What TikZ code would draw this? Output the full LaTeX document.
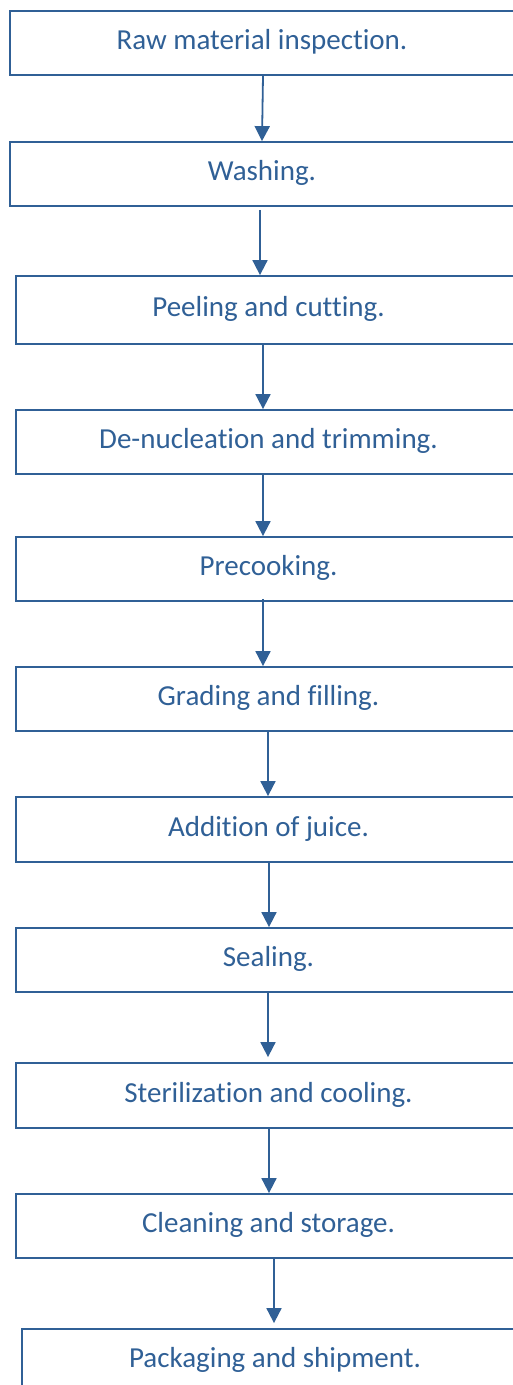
\documentclass[tikz,border=0pt]{standalone}
\usepackage{fontspec}
\setmainfont{Carlito}[Ligatures=NoCommon]
\usetikzlibrary{arrows.meta}
\definecolor{flowblue}{RGB}{48,96,150}
\tikzset{
  stepbox/.style={draw=flowblue, line width=1.8pt, rectangle, inner sep=0pt,
    text=flowblue, font=\fontsize{29}{34}\selectfont,
    text height=20pt, text depth=7pt},
  arr/.style={draw=flowblue, line width=1.8pt, -{Triangle[width=15pt,length=15pt]}}
}
\begin{document}
\begin{tikzpicture}[x=1pt,y=-1pt]
\useasboundingbox (0,0) rectangle (513,1385);
\clip (0,0) rectangle (513,1385);
\node[stepbox, minimum width=504pt, minimum height=64pt] (b1) at (262,43) {Raw material inspection.};
\node[stepbox, minimum width=504pt, minimum height=64pt] (b2) at (262,174) {Washing.};
\node[stepbox, minimum width=505pt, minimum height=68pt] (b3) at (268.5,310) {Peeling and cutting.};
\node[stepbox, minimum width=505pt, minimum height=64pt] (b4) at (268.5,442) {De-nucleation and trimming.};
\node[stepbox, minimum width=505pt, minimum height=64pt] (b5) at (268.5,569) {Precooking.};
\node[stepbox, minimum width=505pt, minimum height=64pt] (b6) at (268.5,699) {Grading and filling.};
\node[stepbox, minimum width=505pt, minimum height=65pt] (b7) at (268.5,829.5) {Addition of juice.};
\node[stepbox, minimum width=505pt, minimum height=64pt] (b8) at (268.5,960) {Sealing.};
\node[stepbox, minimum width=505pt, minimum height=65pt] (b9) at (268.5,1095.5) {Sterilization and cooling.};
\node[stepbox, minimum width=505pt, minimum height=64pt] (b10) at (268.5,1226) {Cleaning and storage.};
\node[stepbox, minimum width=506pt, minimum height=63pt] (b11) at (275,1360.5) {Packaging and shipment.};
\draw[arr] ([xshift=1pt]b1.south) -- ([xshift=0pt]b2.north);
\draw[arr] ([xshift=-2pt,yshift=-3pt]b2.south) -- ([xshift=-8.5pt]b3.north);
\draw[arr] ([xshift=-5.5pt]b3.south) -- ([xshift=-5.5pt]b4.north);
\draw[arr] ([xshift=-5.5pt]b4.south) -- ([xshift=-5.5pt]b5.north);
\draw[arr] ([xshift=-5.5pt,yshift=3pt]b5.south) -- ([xshift=-5.5pt]b6.north);
\draw[arr] ([xshift=-0.5pt]b6.south) -- ([xshift=-0.5pt]b7.north);
\draw[arr] ([xshift=0.5pt]b7.south) -- ([xshift=0.5pt]b8.north);
\draw[arr] ([xshift=-0.5pt]b8.south) -- ([xshift=-0.5pt,yshift=5pt]b9.north);
\draw[arr] ([xshift=0.5pt]b9.south) -- ([xshift=0.5pt]b10.north);
\draw[arr] ([xshift=5.5pt]b10.south) -- ([xshift=-1pt,yshift=5pt]b11.north);
\end{tikzpicture}
\end{document}
